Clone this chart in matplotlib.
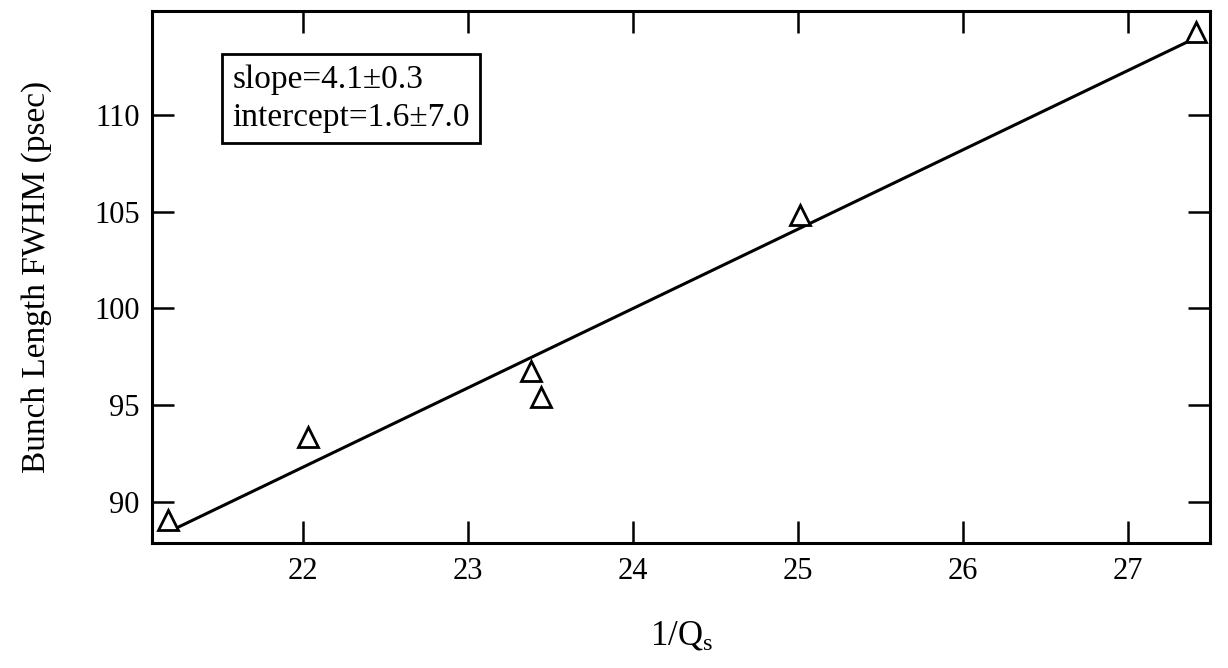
import matplotlib
matplotlib.use('Agg')
import matplotlib.pyplot as plt
import numpy as np

plt.rcParams['font.family'] = ['Liberation Serif', 'DejaVu Serif']
plt.rcParams['mathtext.default'] = 'regular'

# measured points
inv_qs = [21.18, 22.03, 23.38, 23.44, 25.01, 27.41]
bunch_len = [89.07, 93.36, 96.77, 95.43, 104.85, 114.29]

# fit quoted on the plot
slope = 4.1
intercept = 1.6

xticks = [22, 23, 24, 25, 26, 27]
yticks = [90, 95, 100, 105, 110]

fig = plt.figure(figsize=(12.28, 6.68), dpi=100)
ax = fig.add_axes([0.1238, 0.1871, 0.8616, 0.7964])

xfit = np.array([min(inv_qs) + 0.04, max(inv_qs) - 0.02])
ax.plot(xfit, slope * xfit + intercept, color='black', lw=2.2, zorder=2)
ax.plot(inv_qs, bunch_len, linestyle='none', marker='^', ms=14,
        mfc='white', mec='black', mew=2, zorder=3)

ax.set_xlim(21.085, 27.497)
ax.set_ylim(87.88, 115.37)
ax.set_xticks(xticks)
ax.set_yticks(yticks)

for s in ax.spines.values():
    s.set_linewidth(2.2)
ax.tick_params(direction='in', length=16, width=1.8, top=True, right=True,
               labelsize=22)
ax.tick_params(axis='x', pad=10)
ax.tick_params(axis='y', pad=9)

ax.set_xlabel('1/$Q_s$', fontsize=25, labelpad=24)
ax.set_ylabel('Bunch Length FWHM (psec)', fontsize=24, labelpad=30)

ax.text(0.076, 0.9, 'slope=4.1\u00b10.3\nintercept=1.6\u00b17.0',
        transform=ax.transAxes, fontsize=24, va='top', ha='left',
        linespacing=1.35,
        bbox=dict(boxstyle='square,pad=0.3', fc='white', ec='black', lw=2))

fig.savefig('out.png', dpi=100)
